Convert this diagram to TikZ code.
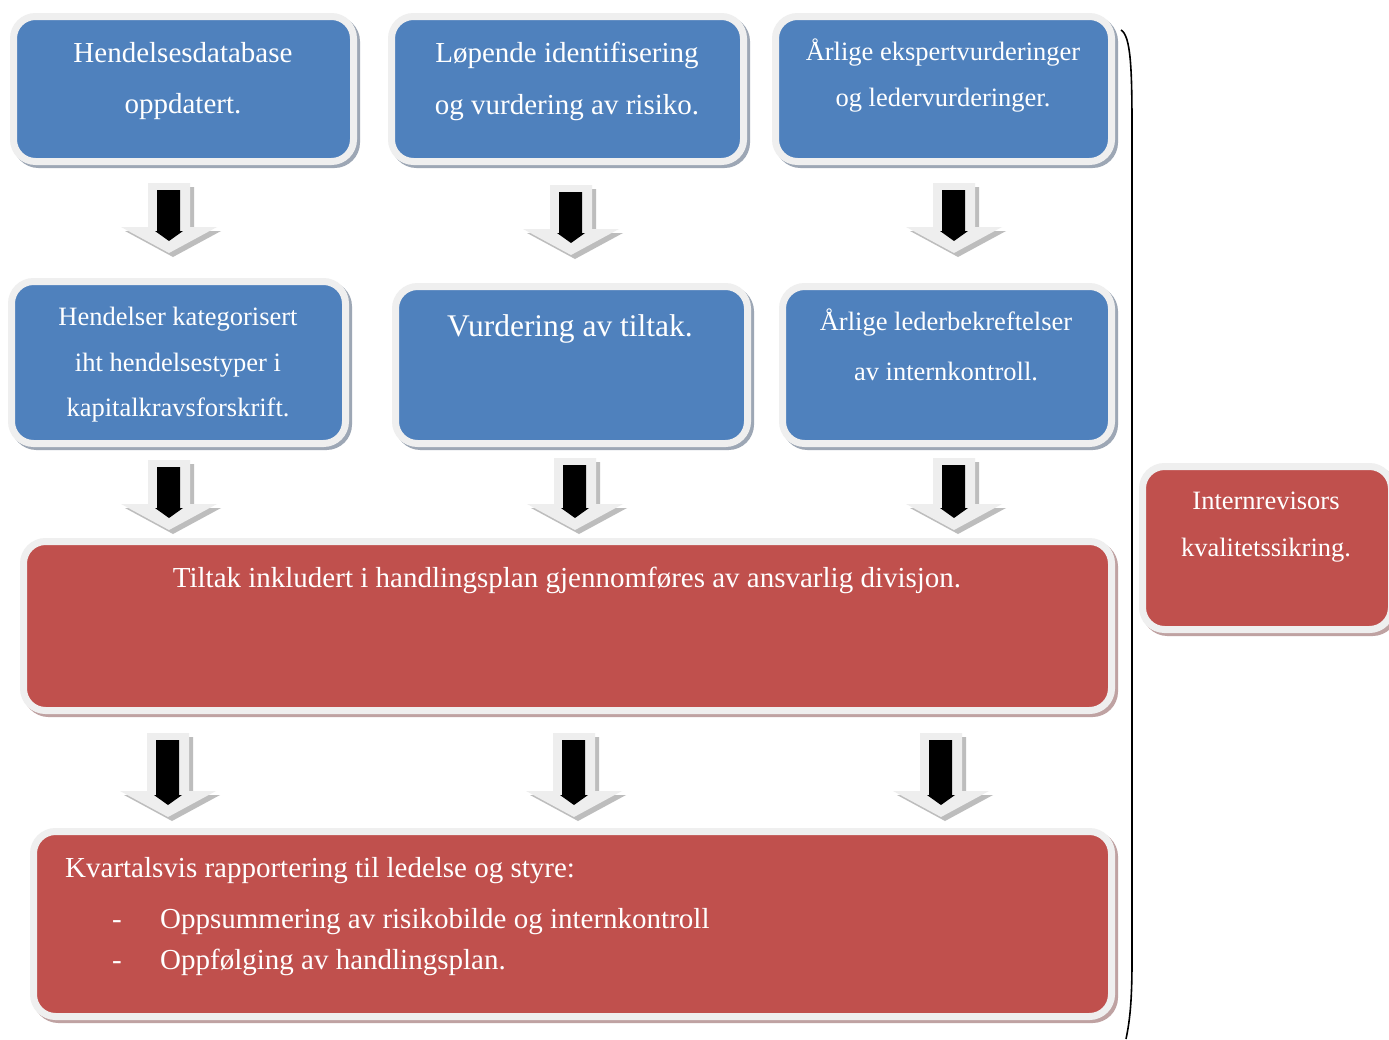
\documentclass[tikz,border=0pt]{standalone}
\usepackage{fontspec}
\setmainfont{Liberation Serif}
\usetikzlibrary{shadows}
\definecolor{boxblue}{HTML}{4F81BD}
\definecolor{boxred}{HTML}{C0504D}
\definecolor{rimgrey}{HTML}{EFEFEF}
\definecolor{shadeblue}{HTML}{9DA7B5}
\definecolor{shadered}{HTML}{BFA2A2}
\definecolor{arrowlight}{HTML}{EEEEEE}
\definecolor{arrowshade}{HTML}{BDBDBD}
\tikzset{
  panel/.style={draw=rimgrey, line width=7pt, rounded corners=22pt,
    inner sep=0pt, minimum width=#1},
  bluepanel/.style={panel=#1, fill=boxblue,
    drop shadow={shadow xshift=3pt, shadow yshift=-3pt, fill=shadeblue,
      draw=shadeblue, line width=7pt, opacity=1}},
  redpanel/.style={panel=#1, fill=boxred,
    drop shadow={shadow xshift=3pt, shadow yshift=-3pt, fill=shadered,
      draw=shadered, line width=7pt, opacity=1}},
  label/.style={text=white, inner sep=0pt, anchor=base},
  big/.style={font=\fontsize{29}{34}\selectfont},
  mid/.style={font=\fontsize{26.5}{31}\selectfont},
  huge/.style={font=\fontsize{31.5}{37}\selectfont},
}
% block arrow pointing down: centre x, top y, shaft length
\newcommand\blockdown[4]{%
  \coordinate (#1) at (#2,#3);
  \fill[arrowshade, shift={(4,4)}] (#2-21,#3) -- (#2+21,#3) -- (#2+21,#3+#4)
     -- (#2+48,#3+#4) -- (#2,#3+#4+26) -- (#2-48,#3+#4) -- (#2-21,#3+#4) -- cycle;
  \fill[arrowlight] (#2-21,#3) -- (#2+21,#3) -- (#2+21,#3+#4)
     -- (#2+48,#3+#4) -- (#2,#3+#4+26) -- (#2-48,#3+#4) -- (#2-21,#3+#4) -- cycle;
  \fill[black] (#2-12,#3+7) -- (#2+11,#3+7) -- (#2+11,#3+#4+4)
     -- (#2+14,#3+#4+4) -- (#2,#3+#4+14) -- (#2-14,#3+#4+4) -- (#2-12,#3+#4+4) -- cycle;
}
\begin{document}
\begin{tikzpicture}[x=1pt,y=-1pt]
\clip (0,0) rectangle (1389,1039);
\fill[white] (0,0) rectangle (1389,1039);

% top row
\node[bluepanel=340pt, minimum height=145pt] (hdb) at (183.5,89) {};
\node[bluepanel=352pt, minimum height=145pt] (lop) at (567.5,89) {};
\node[bluepanel=336pt, minimum height=145pt] (aev) at (943.5,89) {};
\node[label, big] (t1a) at (183,62) {Hendelsesdatabase};
\node[label, big] (t1b) at (183,113) {oppdatert.};
\node[label, big] (t2a) at (567,62) {Løpende identifisering};
\node[label, big] (t2b) at (567,114) {og vurdering av risiko.};
\node[label, mid] (t3a) at (943,60) {Årlige ekspertvurderinger};
\node[label, mid] (t3b) at (943,106) {og ledervurderinger.};

% second row
\node[bluepanel=334pt, minimum height=162pt] (kat) at (178.5,362.5) {};
\node[bluepanel=352pt, minimum height=157pt] (vur) at (571.5,365) {};
\node[bluepanel=329pt, minimum height=157pt] (alb) at (947,365) {};
\node[label, mid] (t4a) at (178,325) {Hendelser kategorisert};
\node[label, mid] (t4b) at (178,371) {iht hendelsestyper i};
\node[label, mid] (t4c) at (178,416) {kapitalkravsforskrift.};
\node[label, huge] (t5a) at (570,336) {Vurdering av tiltak.};
\node[label, mid] (t6a) at (946,330) {Årlige lederbekreftelser};
\node[label, mid] (t6b) at (946,380) {av internkontroll.};

% action plan
\node[redpanel=1088pt, minimum height=169pt] (plan) at (567.5,626) {};
\node[label, big] (t7) at (567,587) {Tiltak inkludert i handlingsplan gjennomføres av ansvarlig divisjon.};

% quarterly reporting
\node[redpanel=1078pt, minimum height=185pt] (rap) at (572.5,924) {};
\node[label, big, anchor=base west] (t8a) at (65,877) {Kvartalsvis rapportering til ledelse og styre:};
\node[label, big, anchor=base west] (d1) at (112,928) {-};
\node[label, big, anchor=base west] (t8b) at (160,928) {Oppsummering av risikobilde og internkontroll};
\node[label, big, anchor=base west] (d2) at (112,969) {-};
\node[label, big, anchor=base west] (t8c) at (160,969) {Oppfølging av handlingsplan.};

% internal audit
\node[redpanel=249pt, minimum height=163pt] (irv) at (1267,548) {};
\node[label, mid] (t9a) at (1266,509) {Internrevisors};
\node[label, mid] (t9b) at (1266,556) {kvalitetssikring.};

% bracket
\coordinate (brtop) at (1121,30);
\coordinate (brbot) at (1126,1039);
\draw[line width=1.6pt] (brtop) .. controls (1131,36) and (1132,70) .. (1132,130)
  -- (1132,960) .. controls (1132,1000) and (1130,1020) .. (brbot);

% block arrows
\blockdown{a1}{169}{183}{44}
\blockdown{a2}{571}{185}{44}
\blockdown{a3}{954}{183}{44}
\blockdown{a4}{169}{460}{44}
\blockdown{a5}{575}{458}{46}
\blockdown{a6}{954}{458}{46}
\blockdown{a7}{168}{733}{58}
\blockdown{a8}{574}{733}{58}
\blockdown{a9}{941}{733}{58}
\end{tikzpicture}
\end{document}
